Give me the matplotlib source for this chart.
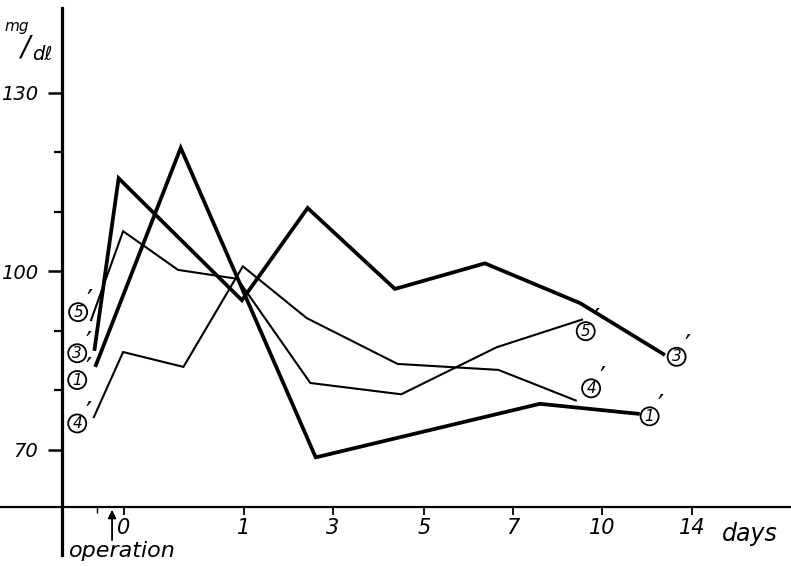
import numpy as np
import matplotlib.pyplot as plt

# x is a position along the time axis; day ticks are not evenly spaced
day_labels = ['0', '1', '3', '5', '7', '10', '14']
day_pos = [0, 1.33, 2.32, 3.33, 4.32, 5.31, 6.31]

# serum level (mg/dl) of each case
x1 = [-0.32, 0.63, 2.13, 4.62, 5.73]
y1 = [83.9, 120.7, 68.7, 77.7, 76.0]
x3 = [-0.33, -0.06, 1.31, 2.04, 3.01, 4.01, 5.07, 6.01]
y3 = [86.6, 115.6, 95.1, 110.6, 97.0, 101.3, 94.6, 85.9]
x4 = [-0.34, -0.01, 0.66, 1.32, 2.03, 3.04, 4.16, 5.03]
y4 = [75.3, 86.4, 83.9, 100.8, 92.1, 84.4, 83.4, 78.2]
x5 = [-0.37, -0.01, 0.6, 1.26, 2.07, 3.08, 4.14, 5.1]
y5 = [91.6, 106.7, 100.2, 98.7, 81.2, 79.3, 87.2, 91.9]

case_names = ['1', '3', '4', '5']

font = dict(family='DejaVu Sans', style='italic')

fig = plt.figure(figsize=(7.91, 5.66), dpi=100)
ax = fig.add_axes([0, 11 / 566, 1, 547 / 566])
ax.set_xlim(-1.378, 7.411)
ax.set_ylim(52.3, 144.2)

# lines: cases 1 and 3 heavy, 4 and 5 light
series = [(x1, y1, 2.7), (x3, y3, 2.7), (x4, y4, 1.5), (x5, y5, 1.5)]
for xs, ys, lw in series:
    ax.plot(xs, ys, color='black', lw=lw, solid_joinstyle='miter',
            solid_capstyle='butt')

# axes drawn as crossing lines
for s in ['top', 'right']:
    ax.spines[s].set_visible(False)
ax.spines['left'].set_position(('data', -0.689))
ax.spines['left'].set_linewidth(2.3)
ax.spines['bottom'].set_position(('data', 60.3))
ax.spines['bottom'].set_linewidth(1.6)

ax.set_yticks([70, 100, 130])
ax.set_yticklabels(['70', '100', '130'], fontsize=14, **font)
ax.set_yticks([80, 90, 110, 120], minor=True)
ax.tick_params(axis='y', which='major', direction='out', length=10, width=1.8, pad=7)
ax.tick_params(axis='y', which='minor', direction='out', length=6, width=1.6)

ax.set_xticks(day_pos)
ax.set_xticklabels(day_labels, fontsize=15, **font)
ax.set_xticks([-0.3], minor=True)
ax.tick_params(axis='x', which='major', direction='out', length=6, width=1.3, pad=2)
ax.tick_params(axis='x', which='minor', direction='out', length=4, width=1.0)

ax.text(6.64, 55.8, 'days', fontsize=17, ha='left', va='center', **font)

# operation marker
ax.annotate('', xy=(-0.133, 59.9), xytext=(-0.133, 54.8),
            arrowprops=dict(arrowstyle='-|>', color='black', lw=1.3,
                            mutation_scale=12, shrinkA=0, shrinkB=0))
ax.text(-0.02, 53.0, 'operation', fontsize=16, ha='center', va='center', **font)

# unit
fig.text(17 / 791, 1 - 26 / 566, 'mg', fontsize=11, ha='center', va='center', **font)
fig.text(25 / 791, 1 - 47 / 566, '/', fontsize=20, ha='center', va='center', **font)
fig.text(42 / 791, 1 - 55 / 566, 'dℓ', fontsize=14, ha='center', va='center', **font)

# circled case numbers at the start and end of each line
left_lab = {'5': (-0.51, 93.1), '3': (-0.52, 86.2), '1': (-0.52, 81.7), '4': (-0.52, 74.4)}
right_lab = {'5': (5.13, 89.9), '4': (5.19, 80.3), '1': (5.84, 75.6), '3': (6.14, 85.6)}
for pos in (left_lab, right_lab):
    for name in case_names:
        lx, ly = pos[name]
        ax.text(lx, ly, name, fontsize=11, ha='center', va='center', **font,
                bbox=dict(boxstyle='circle,pad=0.1', fc='white', ec='black', lw=1.3))
        ax.annotate('\u2032', xy=(lx, ly), xytext=(8, 7), textcoords='offset points',
                    fontsize=20, ha='center', va='center', family='DejaVu Sans')

fig.savefig('out.png', dpi=100)
